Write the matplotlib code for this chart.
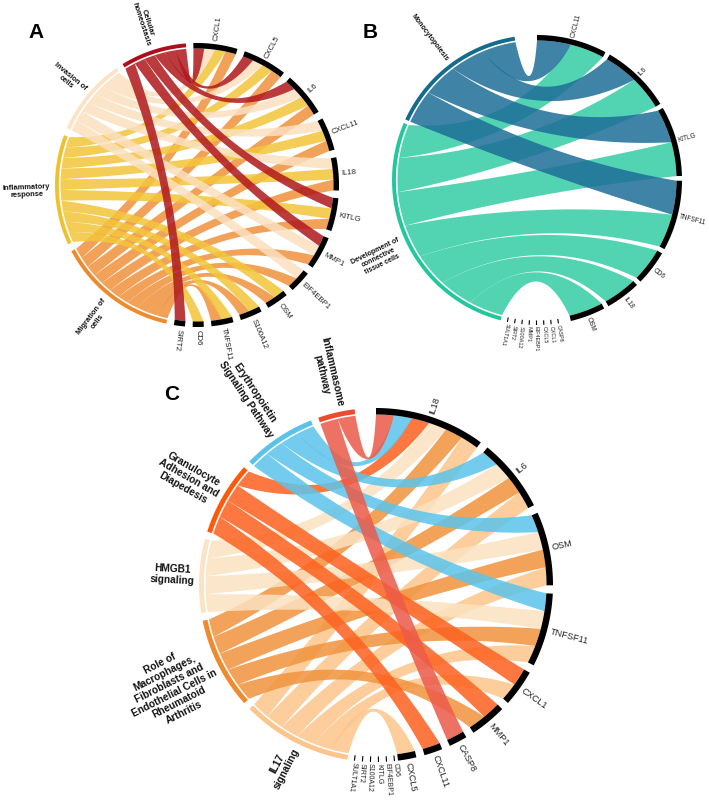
import numpy as np
import matplotlib
matplotlib.use("Agg")
import matplotlib.pyplot as plt

plt.rcParams['font.family'] = ['Liberation Sans', 'DejaVu Sans']

# ---------------- DATA ----------------
# Panel A
A_genes = ["CXCL1", "CXCL5", "IL6", "CXCL11", "IL18", "KITLG", "MMP1",
           "EIF4EBP1", "OSM", "S100A12", "TNFSF11", "CD6", "SIRT2"]
A_funcs = ["MIG", "INF", "INV", "HOM"]
A_func_labels = ["Migration of\ncells", "Inflammatory\nresponse",
                 "Invasion of\ncells", "Cellular\nhomeostasis"]
A_gene_funcs = {
    "CXCL1": ["HOM", "INV", "INF", "MIG"],
    "CXCL5": ["HOM", "INV", "INF", "MIG"],
    "IL6": ["HOM", "INV", "INF", "MIG"],
    "CXCL11": ["INV", "INF", "MIG"],
    "IL18": ["INV", "INF", "MIG"],
    "KITLG": ["HOM", "INF", "MIG"],
    "MMP1": ["HOM", "INV", "MIG"],
    "EIF4EBP1": ["INV", "MIG"],
    "OSM": ["INF", "MIG"],
    "S100A12": ["INF", "MIG"],
    "TNFSF11": ["INF", "MIG"],
    "CD6": ["INF"],
    "SIRT2": ["HOM"],
}
A_tiny = []

# Panel B
B_genes = ["CXCL11", "IL6", "KITLG", "TNFSF11", "CD6", "IL18", "OSM"]
B_funcs = ["DEV", "MONO"]
B_func_labels = ["Development of\nconnective\ntissue cells", "Monocytopoiesis"]
B_gene_funcs = {
    "CXCL11": ["MONO", "DEV"],
    "IL6": ["MONO", "DEV"],
    "KITLG": ["MONO", "DEV"],
    "TNFSF11": ["MONO", "DEV"],
    "CD6": ["DEV"],
    "IL18": ["DEV"],
    "OSM": ["DEV"],
}
B_tiny = ["CASP8", "CXCL1", "CXCL5", "EIF4EBP1", "MMP1", "S100A12", "SIRT2", "SULT1A1"]

# Panel C
C_genes = ["IL18", "IL6", "OSM", "TNFSF11", "CXCL1", "MMP1", "CASP8", "CXCL11", "CXCL5"]
C_funcs = ["IL17", "ROLE", "HMGB1", "GRAN", "ERY", "INFL"]
C_func_labels = ["IL17\nsignaling",
                 "Role of\nMacrophages,\nFibroblasts and\nEndothelial Cells in\nRheumatoid\nArthritis",
                 "HMGB1\nsignaling", "Granulocyte\nAdhesion and\nDiapedesis",
                 "Erythropoietin\nSignaling Pathway", "Inflammasome\npathway"]
C_gene_funcs = {
    "IL18": ["INFL", "ERY", "GRAN", "HMGB1", "ROLE", "IL17"],
    "IL6": ["ERY", "HMGB1", "ROLE", "IL17"],
    "OSM": ["ERY", "HMGB1", "ROLE", "IL17"],
    "TNFSF11": ["ERY", "HMGB1", "ROLE", "IL17"],
    "CXCL1": ["GRAN", "IL17"],
    "MMP1": ["GRAN", "ROLE"],
    "CASP8": ["INFL"],
    "CXCL11": ["GRAN"],
    "CXCL5": ["IL17"],
}
C_tiny = ["CD6", "EIF4EBP1", "KITLG", "S100A12", "SIRT2", "SULT1A1"]

# ---------------- STYLE ----------------
A_arc_col = {"HOM": "#AE0E1A", "INV": "#FBE3C6", "INF": "#EEC22E", "MIG": "#EE8A2C"}
A_rib_col = {"HOM": "#B01A1E", "INV": "#FBE0BE", "INF": "#F2C53A", "MIG": "#F0923C"}
B_arc_col = {"DEV": "#22C89D", "MONO": "#136B8E"}
B_rib_col = {"DEV": "#36CDA6", "MONO": "#1F6F98"}
C_arc_col = {"IL17": "#FDC48C", "ROLE": "#EF8B2E", "HMGB1": "#FBE3C6",
             "GRAN": "#FD5A0C", "ERY": "#5BC2EA", "INFL": "#EE4A2E"}
C_rib_col = {"IL17": "#FDC58C", "ROLE": "#F0943E", "HMGB1": "#FBE2C0",
             "GRAN": "#FD6220", "ERY": "#5CC4EA", "INFL": "#EC5B4A"}


def pt(cx, cy, r, a):
    a = np.radians(a)
    return cx + r * np.cos(a), cy - r * np.sin(a)


def arc_pts(cx, cy, r, a1, a2, n=40):
    t = np.radians(np.linspace(a1, a2, n))
    return cx + r * np.cos(t), cy - r * np.sin(t)


def bez_pts(cx, cy, r, a0, a2, k=0.5, n=60):
    p0 = np.array([np.cos(np.radians(a0)), np.sin(np.radians(a0))])
    p2 = np.array([np.cos(np.radians(a2)), np.sin(np.radians(a2))])
    c = k * (p0 + p2) / 2
    t = np.linspace(0, 1, n)[:, None]
    p = (1 - t) ** 2 * p0 + 2 * t * (1 - t) * c + t ** 2 * p2
    return cx + r * p[:, 0], cy - r * p[:, 1]


def band(ax, cx, cy, r_in, r_out, a1, a2, color, z=5):
    xo, yo = arc_pts(cx, cy, r_out, a1, a2)
    xi, yi = arc_pts(cx, cy, r_in, a2, a1)
    ax.fill(np.r_[xo, xi], np.r_[yo, yi], color=color, lw=0, zorder=z)


def chord_panel(ax, cx, cy, R, w, genes, gene_funcs, funcs, func_labels,
                arc_col, rib_col, unit, g_start, g_gap, f_start, f_gap,
                tiny, t_start, t_step, gfs, ffs, tfs, alpha=0.86, goff=3):
    links = [(g, f) for g in genes for f in gene_funcs[g]]
    counts = {nm: 0 for nm in genes + funcs}
    for g, f in links:
        counts[g] += 1
        counts[f] += 1
    spans = {}
    a = g_start
    for g in genes:
        spans[g] = (a, a - counts[g] * unit)
        a -= counts[g] * unit + g_gap
    a = f_start
    for f in funcs:
        spans[f] = (a, a - counts[f] * unit)
        a -= counts[f] * unit + f_gap
    order = genes + funcs
    N = len(order)
    idx = {nm: i for i, nm in enumerate(order)}
    partners = {nm: [] for nm in order}
    for g, f in links:
        partners[g].append(f)
        partners[f].append(g)
    slot = {}
    for nm in order:
        ps = sorted(partners[nm], key=lambda p: -((idx[p] - idx[nm]) % N))
        a0 = spans[nm][0]
        for k, p in enumerate(ps):
            slot[(nm, p)] = (a0 - k * unit, a0 - (k + 1) * unit)

    r0 = R - w - 0.5
    z = 2
    for f in funcs:
        for g in genes:
            if f not in gene_funcs[g]:
                continue
            g1, g2 = slot[(g, f)]
            f1, f2 = slot[(f, g)]
            x1, y1 = arc_pts(cx, cy, r0, g1, g2)
            x2, y2 = bez_pts(cx, cy, r0, g2, f1)
            x3, y3 = arc_pts(cx, cy, r0, f1, f2)
            x4, y4 = bez_pts(cx, cy, r0, f2, g1)
            ax.fill(np.r_[x1, x2, x3, x4], np.r_[y1, y2, y3, y4],
                    color=rib_col[f], alpha=alpha, lw=0, zorder=z)
            z += 0.01

    # gene bands + labels
    for g in genes:
        a1, a2 = spans[g]
        band(ax, cx, cy, r0, R, a1, a2, "black")
        am = (a1 + a2) / 2
        x, y = pt(cx, cy, R + goff, am)
        ax.text(x, y, g, rotation=am, rotation_mode="anchor", ha="left",
                va="center", fontsize=gfs, color="#222222", zorder=10)
    # function bands + labels
    for f, lab in zip(funcs, func_labels):
        a1, a2 = spans[f]
        band(ax, cx, cy, r0 + 1.6, R, a1, a2, arc_col[f])
        am = (a1 + a2) / 2
        x, y = pt(cx, cy, R + 5, am)
        ax.text(x, y, lab, rotation=am - 180, rotation_mode="anchor", ha="right",
                va="center", multialignment="center", fontsize=ffs,
                fontweight="bold", color="#111111", zorder=10, linespacing=1.1)
    # tiny (zero-link) genes
    for i, g in enumerate(tiny):
        am = t_start + i * t_step
        xa, ya = pt(cx, cy, R - w + 0.5, am)
        xb, yb = pt(cx, cy, R, am)
        ax.plot([xa, xb], [ya, yb], color="black", lw=0.8, zorder=10,
                solid_capstyle="butt")
        x, y = pt(cx, cy, R + 1.5, am)
        ax.text(x, y, g, rotation=am, rotation_mode="anchor", ha="left",
                va="center", fontsize=tfs, color="#222222", zorder=10)


fig = plt.figure(figsize=(7.09, 8.0), dpi=100)
ax = fig.add_axes([0, 0, 1, 1])
ax.set_xlim(0, 709)
ax.set_ylim(800, 0)
ax.axis("off")

chord_panel(ax, 197, 185, 142, 5, A_genes, A_gene_funcs, A_funcs, A_func_labels,
            A_arc_col, A_rib_col, unit=4.52, g_start=91.5, g_gap=3.1,
            f_start=257.5, f_gap=3.1, tiny=A_tiny, t_start=0, t_step=0,
            gfs=5.6, ffs=5.4, tfs=4)

chord_panel(ax, 537, 180, 145, 5, B_genes, B_gene_funcs, B_funcs, B_func_labels,
            B_arc_col, B_rib_col, unit=14.1, g_start=90, g_gap=1.9,
            f_start=255.5, f_gap=1.5, tiny=B_tiny, t_start=-81.5, t_step=-2.9,
            gfs=4.7, ffs=5.0, tfs=3.9, goff=2.0)

chord_panel(ax, 376, 585, 177, 6, C_genes, C_gene_funcs, C_funcs, C_func_labels,
            C_arc_col, C_rib_col, unit=6.05, g_start=90, g_gap=2.7,
            f_start=260.7, f_gap=2.5, tiny=C_tiny, t_start=-84, t_step=-2.6,
            gfs=6.6, ffs=7.3, tfs=5.0)

ax.text(36, 33, "A", fontsize=15, fontweight="bold", ha="center", va="center")
ax.text(370, 33, "B", fontsize=15, fontweight="bold", ha="center", va="center")
ax.text(172, 394, "C", fontsize=15, fontweight="bold", ha="center", va="center")

fig.savefig("out.png", dpi=100)
